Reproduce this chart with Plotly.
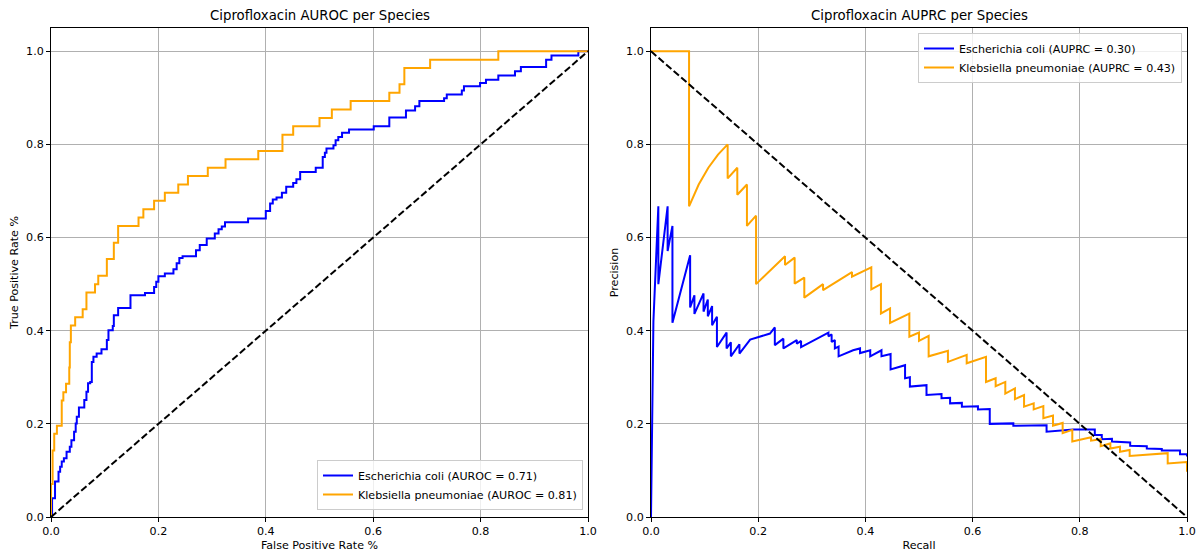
import plotly.graph_objects as go

# ---------------- data ----------------
species = ["Escherichia coli", "Klebsiella pneumoniae"]
auroc = [0.71, 0.81]
auprc = [0.30, 0.43]
tick_vals = [0.0, 0.2, 0.4, 0.6, 0.8, 1.0]
tick_text = ["0.0", "0.2", "0.4", "0.6", "0.8", "1.0"]

# ROC step vertices (hv steps)
roc_fpr_ecoli = [0, 0.002, 0.0075, 0.014, 0.017, 0.02, 0.024, 0.029, 0.035, 0.038, 0.043, 0.046,
                 0.048, 0.052, 0.062, 0.066, 0.069, 0.073, 0.076, 0.079, 0.085, 0.094, 0.104, 0.107,
                 0.115, 0.117, 0.125, 0.148, 0.175, 0.192, 0.196, 0.2, 0.212, 0.228, 0.234, 0.239,
                 0.245, 0.27, 0.277, 0.29, 0.305, 0.312, 0.318, 0.324, 0.367, 0.4, 0.408, 0.413,
                 0.42, 0.43, 0.438, 0.451, 0.457, 0.464, 0.493, 0.506, 0.51, 0.513, 0.526, 0.53,
                 0.535, 0.542, 0.555, 0.601, 0.63, 0.661, 0.678, 0.686, 0.732, 0.737, 0.765, 0.769,
                 0.799, 0.81, 0.833, 0.864, 0.875, 0.922, 0.932, 0.982, 1.0]
roc_tpr_ecoli = [0, 0.04, 0.076, 0.097, 0.108, 0.119, 0.126, 0.14, 0.151, 0.165, 0.183, 0.201,
                 0.215, 0.235, 0.251, 0.269, 0.287, 0.29, 0.333, 0.344, 0.351, 0.36, 0.38, 0.401,
                 0.41, 0.433, 0.449, 0.476, 0.481, 0.494, 0.505, 0.517, 0.523, 0.532, 0.545, 0.556,
                 0.56, 0.573, 0.584, 0.598, 0.609, 0.618, 0.624, 0.633, 0.641, 0.657, 0.673, 0.682,
                 0.686, 0.696, 0.709, 0.717, 0.725, 0.741, 0.75, 0.773, 0.782, 0.791, 0.798, 0.809,
                 0.816, 0.825, 0.832, 0.839, 0.858, 0.873, 0.882, 0.893, 0.899, 0.907, 0.916, 0.925,
                 0.932, 0.939, 0.948, 0.957, 0.966, 0.982, 0.991, 1.0, 1.0]

roc_fpr_kpn = [0, 0, 0.003, 0.006, 0.011, 0.02, 0.023, 0.028, 0.034, 0.035, 0.037, 0.045, 0.059,
               0.066, 0.082, 0.088, 0.104, 0.117, 0.125, 0.163, 0.172, 0.192, 0.212, 0.237, 0.255,
               0.292, 0.325, 0.386, 0.431, 0.451, 0.5, 0.523, 0.558, 0.63, 0.649, 0.658, 0.706,
               0.833, 1.0]
roc_tpr_kpn = [0, 0.071, 0.143, 0.179, 0.196, 0.25, 0.268, 0.286, 0.321, 0.375, 0.411, 0.429, 0.446,
               0.482, 0.5, 0.518, 0.554, 0.589, 0.625, 0.643, 0.661, 0.679, 0.696, 0.714, 0.732,
               0.75, 0.768, 0.786, 0.821, 0.839, 0.857, 0.875, 0.893, 0.911, 0.929, 0.964, 0.982,
               1.0, 1.0]

# Precision-recall points
pr_recall_ecoli = [0, 0.0045, 0.0137, 0.0137, 0.031, 0.031, 0.04, 0.04, 0.073, 0.073, 0.081, 0.081,
                   0.098, 0.098, 0.106, 0.106, 0.114, 0.114, 0.123, 0.123, 0.141, 0.141, 0.149, 0.149,
                   0.165, 0.165, 0.185, 0.222, 0.231, 0.231, 0.247, 0.247, 0.272, 0.272, 0.28, 0.28,
                   0.331, 0.331, 0.337, 0.337, 0.343, 0.343, 0.35, 0.35, 0.377, 0.39, 0.39, 0.409,
                   0.409, 0.43, 0.43, 0.447, 0.447, 0.474, 0.474, 0.483, 0.483, 0.514, 0.514, 0.542,
                   0.542, 0.558, 0.558, 0.58, 0.58, 0.61, 0.61, 0.632, 0.632, 0.676, 0.676, 0.738,
                   0.738, 0.788, 0.828, 0.828, 0.841, 0.841, 0.86, 0.86, 0.894, 0.894, 0.925, 0.925,
                   0.953, 0.953, 0.987, 0.987, 1.0, 1.0]
pr_precision_ecoli = [0, 0.42, 0.667, 0.5, 0.667, 0.571, 0.625, 0.417, 0.562, 0.45, 0.476, 0.436,
                      0.48, 0.441, 0.467, 0.431, 0.453, 0.412, 0.43, 0.365, 0.396, 0.362, 0.375, 0.345,
                      0.371, 0.351, 0.381, 0.394, 0.407, 0.369, 0.383, 0.362, 0.38, 0.372, 0.378, 0.365,
                      0.396, 0.388, 0.392, 0.376, 0.38, 0.362, 0.366, 0.345, 0.358, 0.362, 0.352, 0.358,
                      0.345, 0.358, 0.345, 0.35, 0.317, 0.326, 0.298, 0.3, 0.28, 0.283, 0.262, 0.264,
                      0.255, 0.256, 0.244, 0.245, 0.237, 0.238, 0.231, 0.232, 0.2, 0.201, 0.196, 0.197,
                      0.183, 0.188, 0.188, 0.176, 0.176, 0.167, 0.168, 0.162, 0.16, 0.153, 0.152, 0.147,
                      0.146, 0.143, 0.143, 0.135, 0.135, 0.13]

pr_recall_kpn = [0, 0.071, 0.071, 0.089, 0.107, 0.125, 0.143, 0.143, 0.161, 0.161, 0.179, 0.179,
                 0.196, 0.196, 0.25, 0.25, 0.268, 0.268, 0.286, 0.286, 0.321, 0.321, 0.375, 0.375,
                 0.411, 0.411, 0.429, 0.429, 0.446, 0.446, 0.482, 0.482, 0.5, 0.5, 0.518, 0.518,
                 0.554, 0.554, 0.589, 0.589, 0.625, 0.625, 0.643, 0.643, 0.661, 0.661, 0.679, 0.679,
                 0.696, 0.696, 0.714, 0.714, 0.732, 0.732, 0.75, 0.75, 0.768, 0.768, 0.786, 0.786,
                 0.821, 0.821, 0.839, 0.839, 0.857, 0.857, 0.875, 0.875, 0.893, 0.893, 0.964, 0.964,
                 1.0, 1.0]
pr_precision_kpn = [1.0, 1.0, 0.667, 0.714, 0.75, 0.778, 0.8, 0.727, 0.75, 0.692, 0.714, 0.625,
                    0.647, 0.5, 0.56, 0.541, 0.557, 0.501, 0.514, 0.471, 0.5, 0.487, 0.526, 0.516,
                    0.536, 0.489, 0.5, 0.437, 0.448, 0.417, 0.437, 0.387, 0.396, 0.378, 0.389, 0.345,
                    0.357, 0.333, 0.348, 0.33, 0.344, 0.29, 0.298, 0.281, 0.29, 0.265, 0.276, 0.253,
                    0.262, 0.237, 0.244, 0.231, 0.238, 0.212, 0.218, 0.196, 0.202, 0.18, 0.187, 0.162,
                    0.171, 0.164, 0.167, 0.152, 0.158, 0.147, 0.151, 0.14, 0.144, 0.131, 0.137, 0.115,
                    0.118, 0.097]

colors = ["#0000ff", "#ffa500"]
FONT = "DejaVu Sans"
FS = 11.1      # tick / label / legend size
FS_TITLE = 13.3

fig = go.Figure()

# ROC
fig.add_trace(go.Scatter(x=roc_fpr_ecoli, y=roc_tpr_ecoli, mode="lines",
                         line=dict(color=colors[0], width=2, shape="hv"),
                         name=f"{species[0]} (AUROC = {auroc[0]:.2f})",
                         xaxis="x", yaxis="y", legend="legend"))
fig.add_trace(go.Scatter(x=roc_fpr_kpn, y=roc_tpr_kpn, mode="lines",
                         line=dict(color=colors[1], width=2, shape="hv"),
                         name=f"{species[1]} (AUROC = {auroc[1]:.2f})",
                         xaxis="x", yaxis="y", legend="legend"))
fig.add_trace(go.Scatter(x=[0, 1], y=[0, 1], mode="lines",
                         line=dict(color="black", width=2, dash="7px,3px"),
                         showlegend=False, xaxis="x", yaxis="y"))

# PR
fig.add_trace(go.Scatter(x=pr_recall_ecoli, y=pr_precision_ecoli, mode="lines",
                         line=dict(color=colors[0], width=2),
                         name=f"{species[0]} (AUPRC = {auprc[0]:.2f})",
                         xaxis="x2", yaxis="y2", legend="legend2"))
fig.add_trace(go.Scatter(x=pr_recall_kpn, y=pr_precision_kpn, mode="lines",
                         line=dict(color=colors[1], width=2),
                         name=f"{species[1]} (AUPRC = {auprc[1]:.2f})",
                         xaxis="x2", yaxis="y2", legend="legend2"))
fig.add_trace(go.Scatter(x=[0, 1], y=[1, 0], mode="lines",
                         line=dict(color="black", width=2, dash="7px,3px"),
                         showlegend=False, xaxis="x2", yaxis="y2"))

axis_common = dict(
    showline=True, linecolor="black", linewidth=1, mirror=True,
    ticks="outside", ticklen=4, tickwidth=1, tickcolor="black",
    showgrid=True, gridcolor="#b0b0b0", gridwidth=0.8, zeroline=False,
    tickvals=tick_vals, ticktext=tick_text, automargin=False,
    tickfont=dict(family=FONT, size=FS, color="black"),
)

W, H = 1198, 553
ml, mr, mt, mb = 51, 11, 28, 36
pw = W - ml - mr
ph = H - mt - mb

def px_x(p):
    return (p - ml) / pw

def px_y(p):
    return (H - mb - p) / ph

legend_common = dict(bgcolor="rgba(255,255,255,0.8)", bordercolor="#cccccc", borderwidth=1,
                     font=dict(family=FONT, size=FS, color="black"), tracegroupgap=0)

fig.update_layout(
    width=W, height=H,
    margin=dict(l=ml, r=mr, t=mt, b=mb, autoexpand=False),
    paper_bgcolor="white", plot_bgcolor="white",
    font=dict(family=FONT, size=FS, color="black"),
    xaxis=dict(domain=[0, px_x(588)], range=[0, 1], anchor="y",
               title=dict(text="False Positive Rate %", font=dict(size=FS), standoff=3),
               **axis_common),
    yaxis=dict(domain=[0, 1], range=[0, 1.05], anchor="x",
               title=dict(text="True Positive Rate %", font=dict(size=FS), standoff=5),
               **axis_common),
    xaxis2=dict(domain=[px_x(651), 1], range=[0, 1], anchor="y2",
                title=dict(text="Recall", font=dict(size=FS), standoff=3),
                **axis_common),
    yaxis2=dict(domain=[0, 1], range=[0, 1.05], anchor="x2",
                title=dict(text="Precision", font=dict(size=FS), standoff=5),
                **axis_common),
    legend=dict(x=px_x(583), y=px_y(510), xanchor="right", yanchor="bottom", **legend_common),
    legend2=dict(x=px_x(1182), y=px_y(33), xanchor="right", yanchor="top", **legend_common),
    annotations=[
        dict(text="Ciprofloxacin AUROC per Species", xref="paper", yref="paper",
             x=(px_x(51) + px_x(588)) / 2, y=px_y(25), xanchor="center", yanchor="bottom",
             showarrow=False, font=dict(family=FONT, size=FS_TITLE, color="black")),
        dict(text="Ciprofloxacin AUPRC per Species", xref="paper", yref="paper",
             x=(px_x(651) + px_x(1187)) / 2, y=px_y(25), xanchor="center", yanchor="bottom",
             showarrow=False, font=dict(family=FONT, size=FS_TITLE, color="black")),
    ],
)

fig.write_html("out.html")
